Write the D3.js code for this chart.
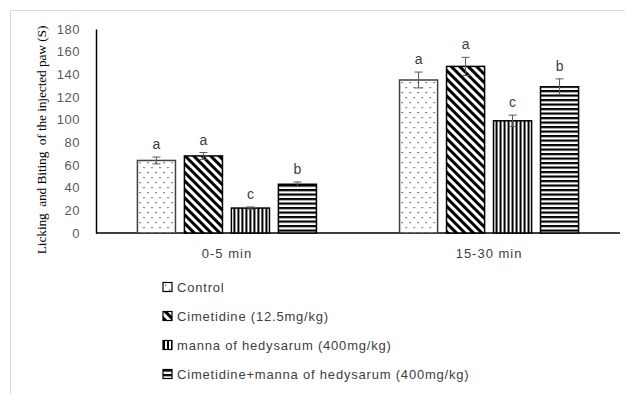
<!DOCTYPE html>
<html>
<head>
<meta charset="utf-8">
<script src="https://cdn.jsdelivr.net/npm/d3@7"></script>
<style>
  body { margin: 0; background: #fff; }
  svg { display: block; }
</style>
</head>
<body>
<div id="chart"></div>
<script>
// chart data
const periods = ['0-5 min', '15-30 min'];
const groups = ['Control', 'Cimetidine (12.5mg/kg)', 'manna of hedysarum (400mg/kg)', 'Cimetidine+manna of hedysarum (400mg/kg)'];
const values = [[64, 68, 22, 43], [135, 147, 99, 129]];
const errors = [[3, 3, 1, 2], [7, 8, 5, 7]];
const letters = [['a', 'a', 'c', 'b'], ['a', 'a', 'c', 'b']];
const yTicks = [0, 20, 40, 60, 80, 100, 120, 140, 160, 180];

const width = 625, height = 394;
const margin = { left: 96, right: 5, top: 29, bottom: 161 };
const font = 'Liberation Sans, Arial, sans-serif';

const svg = d3.select('#chart').append('svg')
    .attr('width', width)
    .attr('height', height);

// patterns for the four groups
const defs = svg.append('defs');
const pats = ['dots', 'diag', 'vert', 'horiz'];

let p = defs.append('pattern').attr('id', 'dots')
    .attr('patternUnits', 'userSpaceOnUse').attr('width', 8).attr('height', 10);
p.append('rect').attr('width', 8).attr('height', 10).attr('fill', '#fff');
p.append('rect').attr('x', 2).attr('y', 2).attr('width', 1.2).attr('height', 1.2).attr('fill', '#333');
p.append('rect').attr('x', 6).attr('y', 7).attr('width', 1.2).attr('height', 1.2).attr('fill', '#333');

p = defs.append('pattern').attr('id', 'diag')
    .attr('patternUnits', 'userSpaceOnUse').attr('width', 6).attr('height', 6)
    .attr('patternTransform', 'rotate(-45)');
p.append('rect').attr('width', 6).attr('height', 6).attr('fill', '#fff');
p.append('rect').attr('width', 3).attr('height', 6).attr('fill', '#000');

p = defs.append('pattern').attr('id', 'vert')
    .attr('patternUnits', 'userSpaceOnUse').attr('width', 4).attr('height', 4);
p.append('rect').attr('width', 4).attr('height', 4).attr('fill', '#fff');
p.append('rect').attr('width', 2).attr('height', 4).attr('fill', '#000');

p = defs.append('pattern').attr('id', 'horiz')
    .attr('patternUnits', 'userSpaceOnUse').attr('width', 4).attr('height', 4.5);
p.append('rect').attr('width', 4).attr('height', 4.5).attr('fill', '#fff');
p.append('rect').attr('width', 4).attr('height', 2.2).attr('fill', '#000');

// frame lines (top and left only)
svg.append('line').attr('x1', 10).attr('x2', width).attr('y1', 10.5).attr('y2', 10.5)
    .attr('stroke', '#d9d9d9');
svg.append('line').attr('x1', 10.5).attr('x2', 10.5).attr('y1', 10).attr('y2', height)
    .attr('stroke', '#d9d9d9');

const y = d3.scaleLinear().domain([0, 180]).range([height - margin.bottom, margin.top]);
const x0 = d3.scaleBand().domain(periods).range([margin.left, 620])
    .paddingInner(0.317).paddingOuter(0.158);
const x1 = d3.scaleBand().domain(groups).range([0, x0.bandwidth()]).paddingInner(0.19);

// y axis
const yAxis = svg.append('g')
    .attr('transform', `translate(${margin.left},0)`)
    .call(d3.axisLeft(y).tickValues(yTicks).tickSize(0).tickPadding(16));
yAxis.select('.domain').attr('stroke', '#000').attr('stroke-width', 1.5);
yAxis.selectAll('text').attr('font-family', font)
    .attr('font-size', 13).attr('letter-spacing', 0.5).attr('fill', '#595959');

// x axis
const xAxis = svg.append('g')
    .attr('transform', `translate(0,${y(0)})`)
    .call(d3.axisBottom(x0).tickSize(0).tickPadding(16));
xAxis.select('.domain').attr('stroke', '#000').attr('stroke-width', 1.5)
    .attr('d', `M${margin.left},0H620`);
xAxis.selectAll('text').attr('font-family', font)
    .attr('font-size', 13).attr('letter-spacing', 1).attr('fill', '#404040');

// bars
const pg = svg.append('g').selectAll('g').data(periods).join('g')
    .attr('transform', d => `translate(${x0(d)},0)`);

pg.each(function(per, i) {
    const g = d3.select(this);
    groups.forEach((grp, j) => {
        const v = values[i][j], e = errors[i][j];
        const bx = x1(grp), bw = x1.bandwidth();
        g.append('rect')
            .attr('x', bx).attr('y', y(v))
            .attr('width', bw).attr('height', y(0) - y(v))
            .attr('fill', `url(#${pats[j]})`)
            .attr('stroke', j === 0 ? '#404040' : '#000')
            .attr('stroke-width', 1.5);
        const cx = bx + bw / 2;
        g.append('path')
            .attr('d', `M${cx - 4},${y(v + e)}H${cx + 4}M${cx},${y(v + e)}V${y(v - e)}M${cx - 4},${y(v - e)}H${cx + 4}`)
            .attr('stroke', '#595959').attr('stroke-width', 1).attr('fill', 'none');
        g.append('text')
            .attr('x', cx).attr('y', y(v + e) - 8)
            .attr('text-anchor', 'middle')
            .attr('font-family', font)
            .attr('font-size', 14).attr('fill', '#404040')
            .text(letters[i][j]);
    });
});

// y axis title
svg.append('text')
    .attr('transform', `translate(46,140) rotate(-90)`)
    .attr('text-anchor', 'middle')
    .attr('font-family', 'Liberation Serif, Times New Roman, serif')
    .attr('font-size', 13.5).attr('letter-spacing', -0.15).attr('fill', '#000')
    .attr('xml:space', 'preserve')
    .text('Licking  and Biting  of the injected paw (S)');

// legend
const leg = svg.append('g').selectAll('g').data(groups).join('g')
    .attr('transform', (d, i) => `translate(163,${282.5 + i * 29})`);
leg.append('rect')
    .attr('width', 9).attr('height', 9)
    .attr('fill', (d, i) => `url(#${pats[i]})`)
    .attr('stroke', '#000').attr('stroke-width', 1.2);
leg.append('text')
    .attr('x', 14).attr('y', 9.5)
    .attr('font-family', font)
    .attr('font-size', 13).attr('letter-spacing', 0.8).attr('fill', '#404040')
    .text(d => d);
</script>
</body>
</html>
